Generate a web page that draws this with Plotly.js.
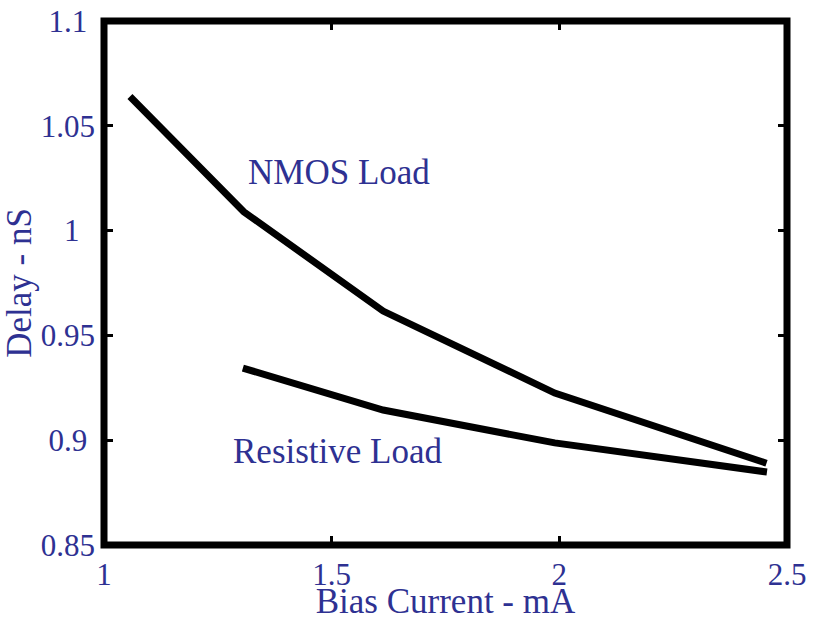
<!DOCTYPE html>
<html><head><meta charset="utf-8">
<script src="https://cdn.plot.ly/plotly-3.0.1.min.js"></script>
<style>html,body{margin:0;padding:0;background:#fff}#chart{width:817px;height:621px}</style>
</head><body><div id="chart"></div>
<script>
var nmosX = [1.057, 1.307, 1.613, 1.99, 2.455];
var nmosY = [1.064, 1.009, 0.9616, 0.9225, 0.889];
var resX = [1.305, 1.613, 1.99, 2.456];
var resY = [0.9344, 0.9144, 0.8987, 0.8848];
var xTicks = [1, 1.5, 2, 2.5];
var xTickText = ['1', '1.5', '2', '2.5'];
var yTicks = [0.85, 0.9, 0.95, 1, 1.05, 1.1];
var yTickLabels = ['0.85', '0.9', '0.95', '1', '1.05', '1.1'];
var pad = function (n) { return n > 0 ? '<span style="color:rgba(0,0,0,0)">' + '.'.repeat(n) + '</span>' : ''; };
var yTickText = yTickLabels.map(function (s) { return s + pad(s.length === 1 ? 2 : (s.length === 3 ? 1 : 0)); });

var blue = '#2e3192';
var fontFam = '"Liberation Serif", "DejaVu Serif", serif';

var traces = [
  {x: nmosX, y: nmosY, mode: 'lines', line: {color: '#000', width: 7}, name: 'NMOS Load'},
  {x: resX, y: resY, mode: 'lines', line: {color: '#000', width: 7}, name: 'Resistive Load'}
];
var axisCommon = {
  showgrid: false, zeroline: false, showline: false,
  mirror: 'ticks', ticks: 'inside', ticklen: 9, tickwidth: 3, tickcolor: '#000',
  tickfont: {family: fontFam, size: 31, color: blue}
};
var layout = {
  width: 817, height: 621,
  margin: {l: 104, r: 30, t: 21, b: 76},
  paper_bgcolor: '#fff', plot_bgcolor: '#fff',
  showlegend: false,
  xaxis: Object.assign({}, axisCommon, {
    range: [1, 2.5], tickvals: xTicks, ticktext: xTickText, ticklabelstandoff: 8,
    title: {text: 'Bias Current - mA', font: {family: fontFam, size: 35, color: blue}, standoff: 5}
  }),
  yaxis: Object.assign({}, axisCommon, {
    range: [0.85, 1.1], tickvals: yTicks, ticktext: yTickText, ticklabelstandoff: 8,
    title: {text: 'Delay - nS', font: {family: fontFam, size: 35, color: blue}, standoff: 0}
  }),
  shapes: [
    {type: 'rect', xref: 'paper', yref: 'paper', x0: 0, x1: 1, y0: 0, y1: 1,
     line: {color: '#000', width: 7}, fillcolor: 'rgba(0,0,0,0)', layer: 'above'}
  ],
  annotations: [
    {x: 1.516, y: 1.0275, text: 'NMOS Load', showarrow: false, font: {family: fontFam, size: 35, color: blue}},
    {x: 1.512, y: 0.8948, text: 'Resistive Load', showarrow: false, font: {family: fontFam, size: 35, color: blue}}
  ]
};
Plotly.newPlot('chart', traces, layout, {displayModeBar: false, staticPlot: true});
</script></body></html>
